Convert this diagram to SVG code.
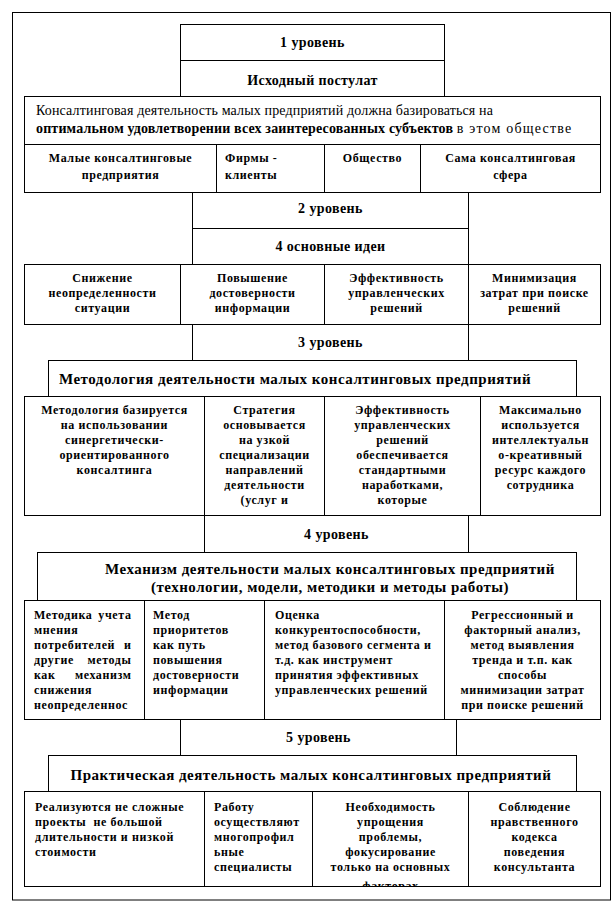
<svg xmlns="http://www.w3.org/2000/svg" width="613" height="912" viewBox="0 0 613 912">
<style>
.b{fill:#fff;stroke:#000;stroke-width:1}
.l{stroke:#000;stroke-width:1;fill:none}
text{font-family:"Liberation Serif","Times New Roman",serif;fill:#000}
.h{font-size:14px;font-weight:bold;text-anchor:middle;letter-spacing:0.4px}
.H{font-size:15px;font-weight:bold;text-anchor:middle;letter-spacing:0.5px}
.c{font-size:12px;font-weight:bold;text-anchor:middle;letter-spacing:0.6px}
.s{font-size:12px;font-weight:bold;letter-spacing:0.6px}
.e{font-size:12px;font-weight:bold;text-anchor:end;letter-spacing:0.6px}
.p{font-size:14px;letter-spacing:0.15px}
</style>
<defs>
<clipPath id="clipR5c3"><rect x="313" y="792" width="155" height="94"/></clipPath>
</defs>
<rect x="0" y="0" width="613" height="912" fill="#fff"/>
<rect id="frame" x="12.5" y="12.5" width="598" height="887.5" class="b"/>

<g id="connectors"/>

<g id="level1">
<rect x="180.5" y="24.5" width="264" height="72" class="b"/>
<line x1="180.5" y1="60.5" x2="444.5" y2="60.5" class="l"/>
<text x="312.5" y="47" class="h">1 уровень</text>
<text x="312.5" y="85" class="h">Исходный постулат</text>
</g>

<g id="postulate">
<rect x="24.5" y="96.5" width="576" height="48" class="b"/>
<text x="36" y="115" class="p">Консалтинговая деятельность малых предприятий должна базироваться на</text>
<text x="36" y="132.5" class="p"><tspan font-weight="bold">оптимальном удовлетворении всех заинтересованных субъектов</tspan> <tspan letter-spacing="1.2px">в этом обществе</tspan></text>
</g>

<g id="row1">
<rect x="24.5" y="144.5" width="576" height="48" class="b"/>
<line x1="216.5" y1="144.5" x2="216.5" y2="192.5" class="l"/>
<line x1="324.5" y1="144.5" x2="324.5" y2="192.5" class="l"/>
<line x1="420.5" y1="144.5" x2="420.5" y2="192.5" class="l"/>
<text x="120.5" y="161.5" class="c">Малые консалтинговые</text>
<text x="120.5" y="179" class="c">предприятия</text>
<text x="225" y="161.5" class="s">Фирмы -</text>
<text x="225" y="179" class="s">клиенты</text>
<text x="372.5" y="161.5" class="c">Общество</text>
<text x="510.5" y="161.5" class="c">Сама консалтинговая</text>
<text x="510.5" y="179" class="c">сфера</text>
</g>

<g id="level2">
<rect x="192.5" y="192.5" width="276" height="72" class="b"/>
<line x1="192.5" y1="228.5" x2="468.5" y2="228.5" class="l"/>
<text x="330.5" y="213" class="h">2 уровень</text>
<text x="330.5" y="251" class="h">4 основные идеи</text>
</g>

<g id="row2">
<rect x="24.5" y="264.5" width="576" height="60" class="b"/>
<line x1="180.5" y1="264.5" x2="180.5" y2="324.5" class="l"/>
<line x1="324.5" y1="264.5" x2="324.5" y2="324.5" class="l"/>
<line x1="468.5" y1="264.5" x2="468.5" y2="324.5" class="l"/>
<text x="102.5" y="282" class="c">Снижение</text>
<text x="102.5" y="297" class="c">неопределенности</text>
<text x="102.5" y="312" class="c">ситуации</text>
<text x="252.5" y="282" class="c">Повышение</text>
<text x="252.5" y="297" class="c">достоверности</text>
<text x="252.5" y="312" class="c">информации</text>
<text x="396.5" y="282" class="c">Эффективность</text>
<text x="396.5" y="297" class="c">управленческих</text>
<text x="396.5" y="312" class="c">решений</text>
<text x="534.5" y="282" class="c">Минимизация</text>
<text x="534.5" y="297" class="c">затрат при поиске</text>
<text x="534.5" y="312" class="c">решений</text>
</g>

<g id="level3">
<rect x="192.5" y="324.5" width="276" height="36" class="b"/>
<text x="330.5" y="346.5" class="h">3 уровень</text>
</g>

<g id="methodology">
<rect x="48.5" y="360.5" width="528" height="36" class="b"/>
<text x="295" y="383.5" class="H">Методология деятельности малых консалтинговых предприятий</text>
</g>

<g id="row3">
<rect x="24.5" y="396.5" width="576" height="119" class="b"/>
<line x1="204.5" y1="396.5" x2="204.5" y2="515.5" class="l"/>
<line x1="324.5" y1="396.5" x2="324.5" y2="515.5" class="l"/>
<line x1="480.5" y1="396.5" x2="480.5" y2="515.5" class="l"/>
<text x="114.5" y="414" class="c">Методология базируется</text>
<text x="114.5" y="429" class="c">на использовании</text>
<text x="114.5" y="444" class="c">синергетически-</text>
<text x="114.5" y="459" class="c">ориентированного</text>
<text x="114.5" y="474" class="c">консалтинга</text>
<text x="264.5" y="414" class="c">Стратегия</text>
<text x="264.5" y="429" class="c">основывается</text>
<text x="264.5" y="444" class="c">на узкой</text>
<text x="264.5" y="459" class="c">специализации</text>
<text x="264.5" y="474" class="c">направлений</text>
<text x="264.5" y="489" class="c">деятельности</text>
<text x="264.5" y="504" class="c">(услуг и</text>
<text x="402.5" y="414" class="c">Эффективность</text>
<text x="402.5" y="429" class="c">управленческих</text>
<text x="402.5" y="444" class="c">решений</text>
<text x="402.5" y="459" class="c">обеспечивается</text>
<text x="402.5" y="474" class="c">стандартными</text>
<text x="402.5" y="489" class="c">наработками,</text>
<text x="402.5" y="504" class="c">которые</text>
<text x="540.5" y="414" class="c">Максимально</text>
<text x="540.5" y="429" class="c">используется</text>
<text x="540.5" y="444" class="c">интеллектуальн</text>
<text x="540.5" y="459" class="c">о-креативный</text>
<text x="540.5" y="474" class="c">ресурс каждого</text>
<text x="540.5" y="489" class="c">сотрудника</text>
</g>

<g id="level4">
<rect x="204.5" y="515.5" width="264" height="37" class="b"/>
<text x="336.5" y="539" class="h">4 уровень</text>
</g>

<g id="mechanism">
<rect x="37.5" y="552.5" width="539" height="48" class="b"/>
<text x="330" y="573.5" class="H">Механизм деятельности малых консалтинговых предприятий</text>
<text x="330" y="592" class="H">(технологии, модели, методики и методы работы)</text>
</g>

<g id="row4">
<rect x="24.5" y="600.5" width="576" height="119" class="b"/>
<line x1="144.5" y1="600.5" x2="144.5" y2="719.5" class="l"/>
<line x1="264.5" y1="600.5" x2="264.5" y2="719.5" class="l"/>
<line x1="444.5" y1="600.5" x2="444.5" y2="719.5" class="l"/>
<text x="34" y="618.5" class="s">Методика</text><text x="131.5" y="618.5" class="e" letter-spacing="0">учета</text>
<text x="34" y="633.5" class="s">мнения</text>
<text x="34" y="648.5" class="s">потребителей</text><text x="131.5" y="648.5" class="e" letter-spacing="0">и</text>
<text x="34" y="663.5" class="s">другие</text><text x="131.5" y="663.5" class="e" letter-spacing="0">методы</text>
<text x="34" y="678.5" class="s">как</text><text x="131.5" y="678.5" class="e" letter-spacing="0">механизм</text>
<text x="34" y="693.5" class="s">снижения</text>
<text x="34" y="708.5" class="s">неопределеннос</text>
<text x="153" y="618.5" class="s">Метод</text>
<text x="153" y="633.5" class="s">приоритетов</text>
<text x="153" y="648.5" class="s">как путь</text>
<text x="153" y="663.5" class="s">повышения</text>
<text x="153" y="678.5" class="s">достоверности</text>
<text x="153" y="693.5" class="s">информации</text>
<text x="275" y="618.5" class="s">Оценка</text>
<text x="275" y="633.5" class="s">конкурентоспособности,</text>
<text x="275" y="648.5" class="s">метод базового сегмента и</text>
<text x="275" y="663.5" class="s">т.д. как инструмент</text>
<text x="275" y="678.5" class="s">принятия эффективных</text>
<text x="275" y="693.5" class="s">управленческих решений</text>
<text x="522.5" y="618.5" class="c">Регрессионный и</text>
<text x="522.5" y="633.5" class="c">факторный анализ,</text>
<text x="522.5" y="648.5" class="c">метод выявления</text>
<text x="522.5" y="663.5" class="c">тренда и т.п. как</text>
<text x="522.5" y="678.5" class="c">способы</text>
<text x="522.5" y="693.5" class="c">минимизации затрат</text>
<text x="522.5" y="708.5" class="c">при поиске решений</text>
</g>

<g id="level5">
<rect x="180.5" y="719.5" width="276" height="36" class="b"/>
<text x="318.5" y="741.5" class="h">5 уровень</text>
</g>

<g id="practice">
<rect x="48.5" y="755.5" width="528" height="36" class="b"/>
<text x="311" y="780" class="H">Практическая деятельность малых консалтинговых предприятий</text>
</g>

<g id="row5">
<rect x="24.5" y="791.5" width="576" height="95" class="b"/>
<line x1="204.5" y1="791.5" x2="204.5" y2="886.5" class="l"/>
<line x1="312.5" y1="791.5" x2="312.5" y2="886.5" class="l"/>
<line x1="468.5" y1="791.5" x2="468.5" y2="886.5" class="l"/>
<text x="35" y="811" class="s">Реализуются не сложные</text>
<text x="35" y="826" class="s" style="white-space:pre">проекты  не большой</text>
<text x="35" y="841" class="s">длительности и низкой</text>
<text x="35" y="856" class="s">стоимости</text>
<text x="214" y="811" class="s">Работу</text>
<text x="214" y="826" class="s">осуществляют</text>
<text x="214" y="841" class="s">многопрофил</text>
<text x="214" y="856" class="s">ьные</text>
<text x="214" y="871" class="s">специалисты</text>
<g clip-path="url(#clipR5c3)">
<text x="390.5" y="811" class="c">Необходимость</text>
<text x="390.5" y="826" class="c">упрощения</text>
<text x="390.5" y="841" class="c">проблемы,</text>
<text x="390.5" y="856" class="c">фокусирование</text>
<text x="390.5" y="871" class="c">только на основных</text>
<text x="390.5" y="890" class="c">факторах</text>
</g>
<text x="534.5" y="811" class="c">Соблюдение</text>
<text x="534.5" y="826" class="c">нравственного</text>
<text x="534.5" y="841" class="c">кодекса</text>
<text x="534.5" y="856" class="c">поведения</text>
<text x="534.5" y="871" class="c">консультанта</text>
</g>
</svg>
